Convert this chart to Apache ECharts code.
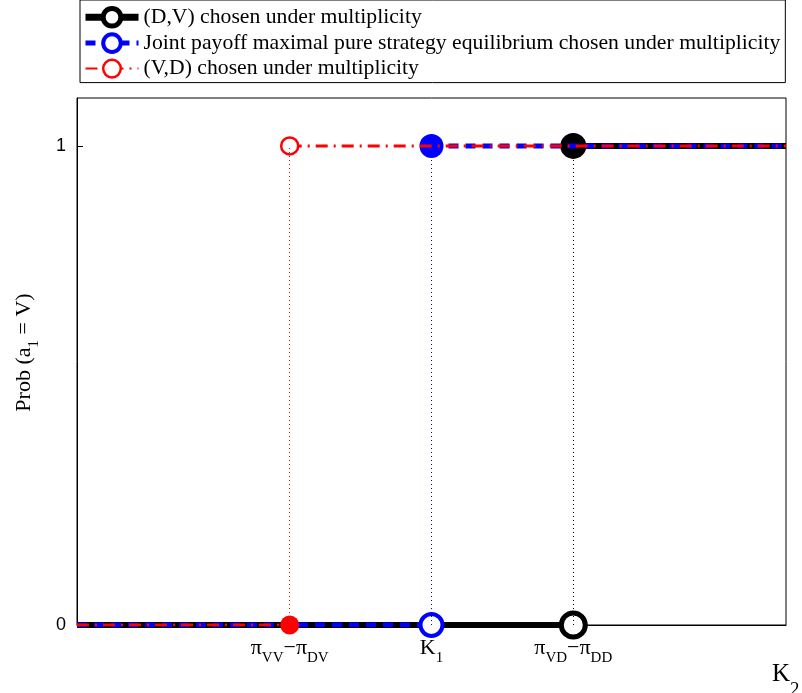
<!DOCTYPE html>
<html>
<head>
<meta charset="utf-8">
<script src="https://cdn.jsdelivr.net/npm/echarts@6/dist/echarts.min.js"></script>
<style>html,body{margin:0;padding:0;background:#fff;}#c{width:802px;height:693px;}</style>
</head>
<body>
<div id="c"></div>
<script>
// ---- data ----
const seriesNames = ['(D,V) chosen under multiplicity', 'Joint payoff maximal pure strategy equilibrium chosen under multiplicity', '(V,D) chosen under multiplicity'];
const seriesColors = ['#000000', '#0000ff', '#ff0000'];
const switchPoints = [3.5, 2.5, 1.5];      // K2 value where Prob jumps 0 -> 1
const lowValues = [0, 0, 0];
const highValues = [1, 1, 1];
const xMin = 0, xMax = 5;
const yMin = 0, yMax = 1.1;
const xTickValues = [1.5, 2.5, 3.5];
const xTickLabels = ['{p|π}{s|VV}{p|−π}{s|DV}', '{p|K}{s|1}', '{p|π}{s|VD}{p|−π}{s|DD}'];
const yTickValues = [0, 1];
const yTickLabels = ['0', '1'];
// which marker is open (hollow) at the low / high end
const lowOpen = [true, true, false];
const highOpen = [false, false, true];

// ---- styles ----
const lineWidths = [6, 5, 3];
const legendLineWidths = [7, 5, 2];
const lineTypes = ['solid', [10, 7], [12, 6, 2, 6]];
const markerSizes = [26, 24, 19];
const markerBorders = [5, 4, 2.5];

function marker(i, x, y, open) {
  return {
    value: [x, y],
    symbol: 'circle',
    symbolSize: open ? markerSizes[i] - 2 : markerSizes[i],
    itemStyle: open
      ? { color: '#fff', borderColor: seriesColors[i], borderWidth: markerBorders[i] }
      : { color: seriesColors[i], borderColor: seriesColors[i], borderWidth: 0 }
  };
}
function plain(x, y) { return { value: [x, y], symbol: 'none' }; }

const series = seriesNames.map((name, i) => {
  const s = switchPoints[i];
  return {
    name: name,
    type: 'line',
    symbol: 'circle',
    symbolSize: 16,
    showAllSymbol: true,
    connectNulls: false,
    itemStyle: { color: '#fff', borderColor: seriesColors[i], borderWidth: markerBorders[i] },
    lineStyle: { color: seriesColors[i], width: lineWidths[i], type: lineTypes[i] },
    data: [
      plain(xMin, lowValues[i]),
      marker(i, s, lowValues[i], lowOpen[i]),
      { value: [s, '-'], symbol: 'none' },
      marker(i, s, highValues[i], highOpen[i]),
      plain(xMax, highValues[i])
    ],
    markLine: {
      silent: true,
      symbol: ['none', 'none'],
      label: { show: false },
      lineStyle: { color: seriesColors[i], width: 1, type: [1, 3] },
      data: [[{ coord: [s, lowValues[i]] }, { coord: [s, highValues[i]] }]]
    },
    z: 2 + i
  };
});

const legendData = seriesNames.map((name, i) => ({
  name: name,
  itemStyle: { color: '#fff', borderColor: seriesColors[i], borderWidth: markerBorders[i] },
  lineStyle: { color: seriesColors[i], width: legendLineWidths[i], type: lineTypes[i] }
}));

const serif = 'Liberation Serif';
const chart = echarts.init(document.getElementById('c'), null, { renderer: 'canvas' });
chart.setOption({
  animation: false,
  backgroundColor: '#fff',
  grid: { left: 77, right: 16, top: 98, bottom: 68, outerBoundsMode: 'none', containLabel: false,
          show: true, borderColor: '#000', borderWidth: 1, backgroundColor: 'transparent' },
  legend: {
    data: legendData,
    orient: 'vertical',
    left: 80,
    top: 0,
    padding: [6, 5, 3, 2],
    itemGap: 3.5,
    itemWidth: 53,
    itemHeight: 22,
    borderColor: '#000',
    borderWidth: 1,
    backgroundColor: '#fff',
    textStyle: { fontFamily: serif, fontSize: 21.7, color: '#000' }
  },
  xAxis: {
    type: 'value',
    min: xMin,
    max: xMax,
    name: '{p|K}{s|2}',
    nameLocation: 'end',
    nameGap: -14,
    nameTextStyle: {
      align: 'left', verticalAlign: 'top', padding: [37, 0, 0, 0],
      rich: {
        p: { fontFamily: serif, fontSize: 25, color: '#000', lineHeight: 25, verticalAlign: 'top' },
        s: { fontFamily: serif, fontSize: 19, color: '#000', lineHeight: 38, verticalAlign: 'bottom' }
      }
    },
    axisLine: { show: true, lineStyle: { color: '#000', width: 1 } },
    axisTick: { show: false },
    splitLine: { show: false },
    axisLabel: {
      customValues: xTickValues,
      margin: 12,
      formatter: (v) => xTickLabels[xTickValues.indexOf(v)] || '',
      rich: {
        p: { fontFamily: serif, fontSize: 22, color: '#000', lineHeight: 22, verticalAlign: 'top' },
        s: { fontFamily: serif, fontSize: 15, color: '#000', lineHeight: 29, verticalAlign: 'bottom' }
      }
    }
  },
  yAxis: {
    type: 'value',
    min: yMin,
    max: yMax,
    name: '{p|Prob (a}{s|1}{p| = V)}',
    nameLocation: 'middle',
    nameGap: 35,
    nameRotate: 90,
    nameTextStyle: {
      padding: [0, 0, 0, 18],
      rich: {
        p: { fontFamily: serif, fontSize: 22, color: '#000', lineHeight: 22, verticalAlign: 'top' },
        s: { fontFamily: serif, fontSize: 15, color: '#000', lineHeight: 29, verticalAlign: 'bottom' }
      }
    },
    axisLine: { show: true, lineStyle: { color: '#000', width: 1 } },
    axisTick: { show: true, inside: true, length: 6, customValues: yTickValues, lineStyle: { color: '#000' } },
    splitLine: { show: false },
    axisLabel: {
      customValues: yTickValues,
      margin: 11,
      formatter: (v) => yTickLabels[yTickValues.indexOf(v)] || '',
      fontFamily: 'Liberation Sans', fontSize: 18, color: '#000'
    }
  },
  series: series
});
</script>
</body>
</html>
